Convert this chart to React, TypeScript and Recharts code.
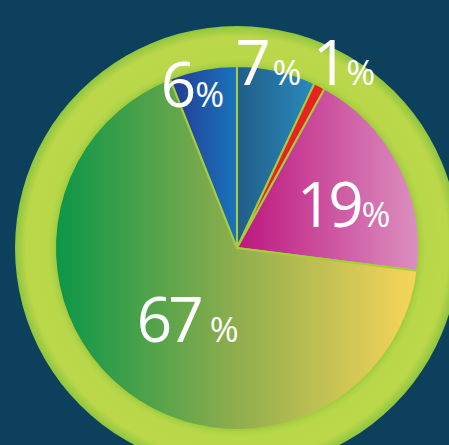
import React from 'react';
import { PieChart, Pie, Cell } from 'recharts';

// shares, clockwise from 12 o'clock
const categories = ['A', 'B', 'C', 'D', 'E'];
const shares = [7, 1, 19, 67, 6];
const gradientStops = [
    ['#225d88', '#2a8abd'],
    ['#e8231f', '#e8231f'],
    ['#bd157e', '#dc90c0'],
    ['#0b9648', '#f8d55a'],
    ['#263a91', '#1874bd'],
];
// label placement tweaks: radius (px from centre), angle shift (deg), gap before %
const labelRadius = [188, 214, 115, 87, 169];
const labelShift = [3, -3, -5, 3.3, 4.5];
const pctGap = [6, 2, 2, 10, 3];

const data = categories.map((name, i) => ({ name, value: shares[i] }));
const ringData = [{ name: 'ring', value: 1 }];

const RAD = Math.PI / 180;

const renderLabel = (props: any) => {
    const { cx, cy, midAngle, index } = props;
    const a = (midAngle + labelShift[index]) * RAD;
    const r = labelRadius[index];
    const x = cx + r * Math.cos(-a);
    const y = cy + r * Math.sin(-a);
    return (
        <text
            x={x}
            y={y + 22}
            textAnchor="middle"
            fill="#ffffff"
            fontFamily="'Open Sans', sans-serif"
        >
            <tspan fontSize={62} letterSpacing={-4}>{shares[index]}</tspan>
            <tspan fontSize={35} dx={pctGap[index]}>%</tspan>
        </text>
    );
};

export default function App() {
    return (
        <div style={{ position: 'absolute', left: 0, top: 0, width: 449, height: 445, background: '#0c405d', overflow: 'hidden' }}>
            <PieChart width={449} height={445} margin={{ top: 0, right: 0, bottom: 0, left: 0 }}>
                <defs>
                    {gradientStops.map((s, i) => (
                        <linearGradient key={i} id={`g${i}`} x1="0" y1="0" x2="1" y2="0">
                            <stop offset="0%" stopColor={s[0]} />
                            {i === 3 && <stop offset="50%" stopColor="#8fae4d" />}
                            <stop offset="100%" stopColor={s[1]} />
                        </linearGradient>
                    ))}
                    <radialGradient id="ring" gradientUnits="userSpaceOnUse" cx={237} cy={248} r={222}>
                        <stop offset="0.8" stopColor="#9ccb3f" />
                        <stop offset="0.85" stopColor="#b9d74a" />
                        <stop offset="0.95" stopColor="#bcd84a" />
                        <stop offset="1" stopColor="#8fc53f" />
                    </radialGradient>
                </defs>
                <Pie
                    data={ringData}
                    dataKey="value"
                    cx={237}
                    cy={248}
                    innerRadius={178}
                    outerRadius={222}
                    stroke="none"
                    fill="url(#ring)"
                    isAnimationActive={false}
                />
                <Pie
                    data={data}
                    dataKey="value"
                    cx={237}
                    cy={248}
                    outerRadius={182}
                    startAngle={90}
                    endAngle={-270}
                    stroke="#a6cd3e"
                    strokeWidth={2}
                    label={renderLabel}
                    labelLine={false}
                    isAnimationActive={false}
                >
                    {data.map((d, i) => (
                        <Cell key={d.name} fill={`url(#g${i})`} />
                    ))}
                </Pie>
            </PieChart>
        </div>
    );
}
